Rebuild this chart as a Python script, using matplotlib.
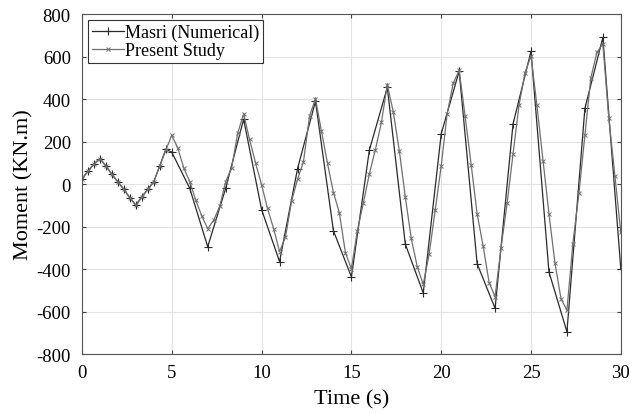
import numpy as np
import matplotlib
matplotlib.use('Agg')
import matplotlib.pyplot as plt

# data
# present study, sampled every 1/3 s
present_t = [0, 0.33, 0.67, 1, 1.33, 1.67, 2, 2.33, 2.67, 3, 3.33, 3.67,
             4, 4.33, 4.67, 5, 5.33, 5.67, 6, 6.33, 6.67, 7, 7.33, 7.67,
             8, 8.33, 8.67, 9, 9.33, 9.67, 10, 10.33, 10.67, 11, 11.33, 11.67,
             12, 12.33, 12.67, 13, 13.33, 13.67, 14, 14.33, 14.67, 15, 15.33, 15.67,
             16, 16.33, 16.67, 17, 17.33, 17.67, 18, 18.33, 18.67, 19, 19.33, 19.67,
             20, 20.33, 20.67, 21, 21.33, 21.67, 22, 22.33, 22.67, 23, 23.33, 23.67,
             24, 24.33, 24.67, 25, 25.33, 25.67, 26, 26.33, 26.67, 27, 27.33, 27.67,
             28, 28.33, 28.67, 29, 29.33, 29.67, 30]
present_m = [25, 60, 95, 120, 85, 45, 10, -25, -65, -100, -60, -25,
             12, 85, 160, 230, 170, 75, 12, -75, -150, -210, -170, -105,
             12, 75, 240, 330, 210, 97, -3, -115, -210, -318, -250, -80,
             22, 105, 320, 402, 250, 97, -40, -135, -325, -398, -220, -88,
             48, 160, 290, 468, 340, 155, -60, -255, -390, -472, -330, -120,
             85, 330, 475, 535, 320, 90, -140, -290, -465, -530, -300, -90,
             142, 370, 525, 603, 370, 110, -140, -370, -540, -594, -280, -42,
             230, 500, 620, 660, 310, 40, -228]

# Masri (Numerical)
masri_t = [0, 0.33, 0.67, 1, 1.33, 1.67, 2, 2.33, 2.67, 3, 3.33, 3.67,
           4, 4.33, 4.67, 5, 6, 7, 8, 9, 10, 11, 12, 13, 14, 15, 16, 17,
           18, 19, 20, 21, 22, 23, 24, 25, 26, 27, 28, 29, 30]
masri_m = [25, 60, 95, 120, 85, 45, 10, -25, -65, -100, -60, -25,
           12, 85, 165, 150, -20, -295, -20, 305, -120, -365, 72, 390, -220, -437, 160, 455,
           -282, -513, 236, 532, -375, -585, 283, 625, -414, -695, 356, 690, -400]

plt.rcParams['font.family'] = ['Liberation Serif', 'DejaVu Serif']
plt.rcParams['axes.unicode_minus'] = False

fig = plt.figure(figsize=(6.43, 4.14), dpi=100)
ax = fig.add_axes([0.1275, 0.1425, 0.838, 0.821])

ax.plot(masri_t, masri_m, color='#2a2a2a', lw=0.9, marker='+', ms=6, mew=0.8,
        label='Masri (Numerical)')
ax.plot(present_t, present_m, color='#707070', lw=0.9, marker='x', ms=3.5, mew=0.7,
        label='Present Study')

ax.set_xlim(0, 30)
ax.set_ylim(-800, 800)
ax.set_xticks(np.arange(0, 31, 5))
ax.set_yticks(np.arange(-800, 801, 200))
ax.grid(True, color='#e3e3e3', lw=0.8)
ax.set_axisbelow(True)
ax.tick_params(direction='in', top=True, right=True, labelsize=13.5, length=3,
               color='#444444')
ax.tick_params(axis='x', pad=7)
ax.tick_params(axis='y', pad=8)
for s in ax.spines.values():
    s.set_color('#555555')
    s.set_linewidth(0.8)

ax.set_xlabel('Time (s)', fontsize=16, labelpad=6)
ax.set_ylabel('Moment (KN.m)', fontsize=16, labelpad=2)

leg = ax.legend(loc='upper left', fontsize=13, fancybox=False, edgecolor='#333333',
                framealpha=1, handlelength=1.75, handletextpad=0.1, borderpad=0.2,
                labelspacing=0.05, borderaxespad=0.35)
leg.get_frame().set_linewidth(0.8)

fig.savefig('out.png', dpi=100)
